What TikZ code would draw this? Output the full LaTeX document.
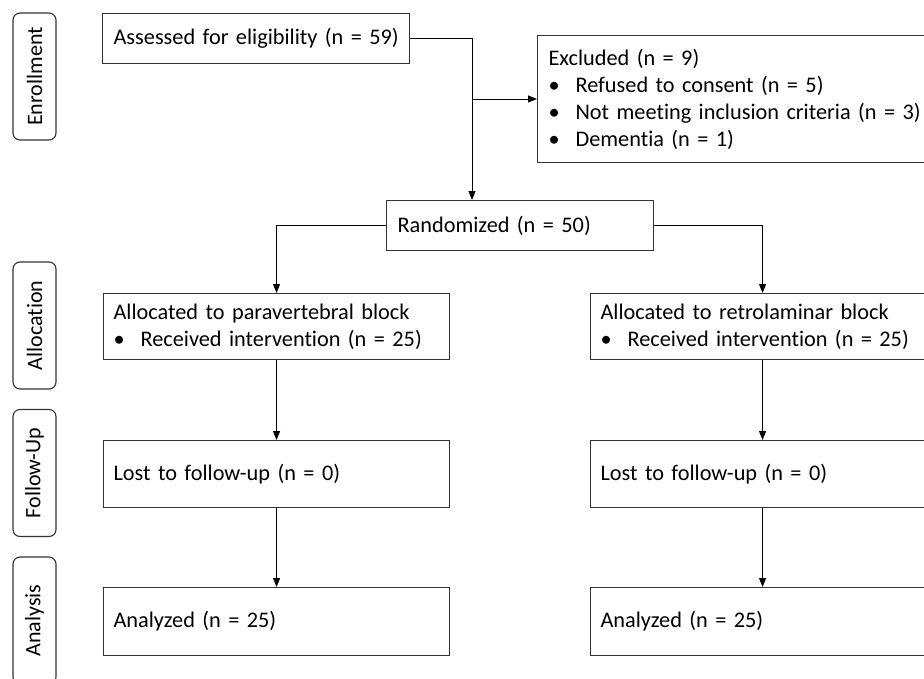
\documentclass[tikz,border=0pt]{standalone}
\usepackage{fontspec}
\setmainfont{Carlito}[Ligatures=NoCommon]
\usetikzlibrary{arrows.meta}
\begin{document}
\begin{tikzpicture}[x=1pt,y=-1pt,
  box/.style={draw=black!80, line width=1.1pt, rectangle, inner xsep=11pt, inner ysep=0pt,
    align=left, anchor=north west, font=\fontsize{22.3}{27}\selectfont},
  phase/.style={draw=black!80, line width=1.1pt, rounded corners=7pt, rotate=90,
    minimum width=127pt, minimum height=43pt, inner sep=0pt, font=\fontsize{22}{26}\selectfont},
  arr/.style={draw=black, line width=1pt, -{Triangle[length=9pt,width=7pt]}},
  conn/.style={draw=black, line width=1pt}]
\useasboundingbox (0,0) rectangle (924,678);
\clip (0,0) rectangle (924,678);
\fill[white] (0,0) rectangle (924,678);
\newcommand{\bul}{\makebox[27pt][l]{\textbullet}}
% phase labels
\node[phase] (ph1) at (34.5,76.5) {Enrollment};
\node[phase] (ph2) at (34.5,325.5) {Allocation};
\node[phase] (ph3) at (34.5,473) {Follow-Up};
\node[phase] (ph4) at (34.5,620.5) {Analysis};
% boxes
\node[box, text width=285pt, minimum height=50pt] (assess) at (102,13) {\mbox{Assessed for eligibility (n = 59)}};
\node[box, text width=376pt, minimum height=127pt] (excl) at (537,35) {\mbox{Excluded (n = 9)}\\
\mbox{\bul Refused to consent (n = 5)}\\
\mbox{\bul Not meeting inclusion criteria (n = 3)}\\
\mbox{\bul Dementia (n = 1)}};
\node[box, text width=245pt, minimum height=50pt] (rand) at (386,200) {\mbox{Randomized (n = 50)}};
\node[box, inner xsep=10pt, text width=326pt, minimum height=66pt] (allocL) at (103,293) {\mbox{Allocated to paravertebral block}\\
\mbox{\bul Received intervention (n = 25)}};
\node[box, inner xsep=10pt, text width=324pt, minimum height=66pt] (allocR) at (590,293) {\mbox{Allocated to retrolaminar block}\\
\mbox{\bul Received intervention (n = 25)}};
\node[box, inner xsep=10pt, text width=326pt, minimum height=67pt] (lostL) at (103,440) {\mbox{Lost to follow-up (n = 0)}};
\node[box, inner xsep=10pt, text width=324pt, minimum height=67pt] (lostR) at (590,440) {\mbox{Lost to follow-up (n = 0)}};
\node[box, inner xsep=10pt, text width=326pt, minimum height=68pt] (anaL) at (103,587) {\mbox{Analyzed (n = 25)}};
\node[box, inner xsep=10pt, text width=324pt, minimum height=68pt] (anaR) at (590,587) {\mbox{Analyzed (n = 25)}};
% connectors
\coordinate (split) at (472,99);
\draw[arr] (assess.east) -| (split |- rand.north);
\draw[arr] (split) -- (split -| excl.west);
\draw[arr] (rand.west) -| (allocL.north);
\draw[arr] (rand.east) -| (allocR.north);
\draw[arr] (allocL.south) -- (lostL.north);
\draw[arr] (allocR.south) -- (lostR.north);
\draw[arr] (lostL.south) -- (anaL.north);
\draw[arr] (lostR.south) -- (anaR.north);
\end{tikzpicture}
\end{document}
